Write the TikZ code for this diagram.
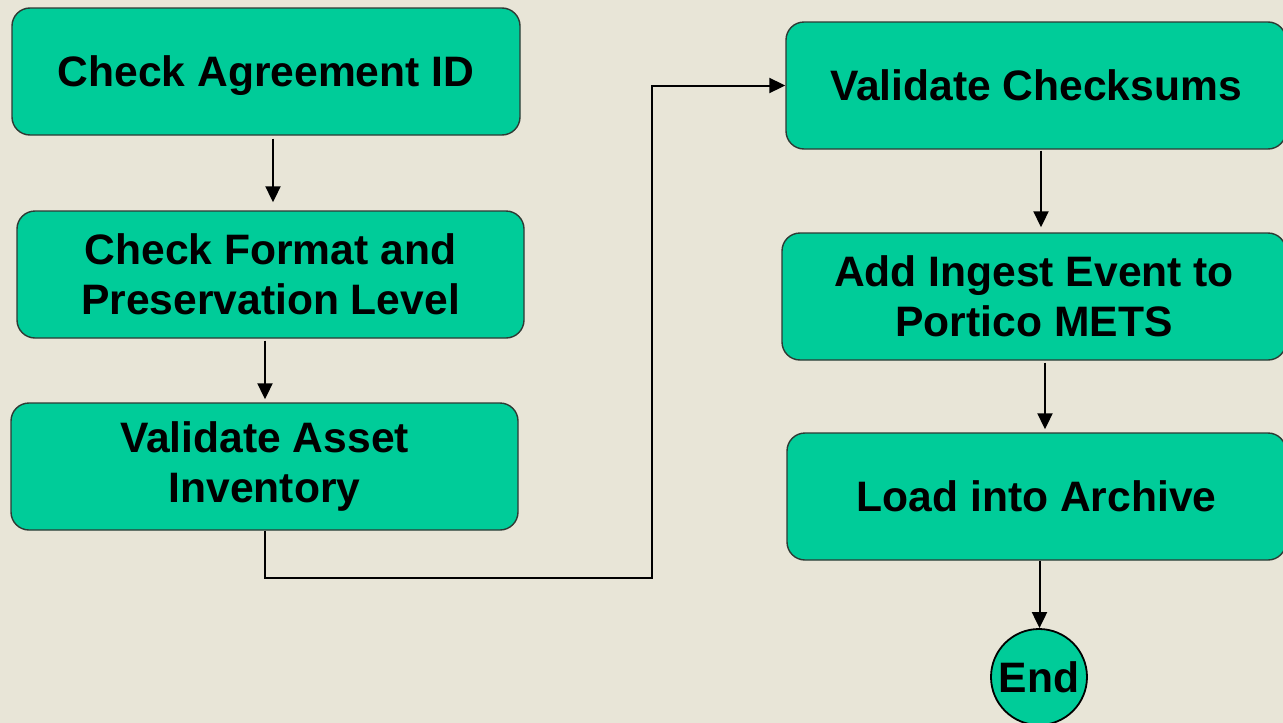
\documentclass[tikz,border=0pt]{standalone}
\usepackage{fontspec}
\setmainfont{Liberation Sans}
\usetikzlibrary{arrows.meta,calc}
\definecolor{bgc}{HTML}{E8E5D7}
\definecolor{boxg}{HTML}{00CC99}
\definecolor{edgec}{HTML}{2E3A34}
\begin{document}
\begin{tikzpicture}[x=1pt,y=-1pt,
  stepbox/.style={draw=edgec,line width=1.4pt,fill=boxg,rounded corners=18pt,
    minimum width=#1,minimum height=127pt,align=center,inner sep=0pt,
    font=\fontsize{42.6}{50}\selectfont\bfseries},
  oneline/.style={text depth=0pt},
  endnode/.style={draw=black,line width=1.8pt,fill=boxg,circle,minimum size=96pt,inner sep=0pt,
    text depth=0pt,font=\fontsize{42.6}{50}\selectfont\bfseries},
  arr/.style={draw=black,line width=2pt,-{Triangle[length=16pt,width=15pt]}}]
\fill[bgc] (0,0) rectangle (1283,723);
\useasboundingbox (0,0) rectangle (1283,723);
\node[stepbox=508pt,oneline] (a) at (266,71.5) {Check Agreement ID};
\node[stepbox=507pt] (b) at (270.5,274.5) {Check Format and\\Preservation Level};
\node[stepbox=507pt] (c) at (264.5,466.5) {Validate Asset\\Inventory};
\node[stepbox=500pt,oneline] (d) at (1036,85.5) {Validate Checksums};
\node[stepbox=504pt] (e) at (1034,296.5) {Add Ingest Event to\\Portico METS};
\node[stepbox=499pt,oneline] (f) at (1036.5,496.5) {Load into Archive};
\node[endnode] (g) at (1039,677) {End};
\coordinate (t) at (652,578);
\draw[arr,shorten <=3pt,shorten >=8pt] ([xshift=7pt]a.south) -- ([xshift=7pt]a.south |- b.north);
\draw[arr,shorten <=2pt,shorten >=3pt] ([xshift=-5.5pt]b.south) -- ([xshift=-5.5pt]b.south |- c.north);
\draw[arr] (c.south) |- (t) |- (d.west);
\draw[arr,shorten <=1pt,shorten >=5pt] ([xshift=5pt]d.south) -- ([xshift=5pt]d.south |- e.north);
\draw[arr,shorten <=2pt,shorten >=3pt] ([xshift=11pt]e.south) -- ([xshift=11pt]e.south |- f.north);
\draw[arr] ([xshift=3pt]f.south) -- ([xshift=3pt]f.south |- g.north);
\end{tikzpicture}
\end{document}
